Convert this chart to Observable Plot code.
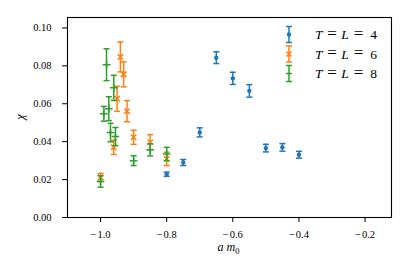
<!DOCTYPE html>
<html><head><meta charset="utf-8">
<script src="https://cdn.jsdelivr.net/npm/d3@7"></script>
<script src="https://cdn.jsdelivr.net/npm/@observablehq/plot@0.6"></script>
<style>body{margin:0;background:#fff;} svg{display:block;}</style>
</head><body><div id="chart"></div>
<script>
// ---- data ----
const seriesNames = ["4", "6", "8"];
const seriesColors = ["#1f77b4", "#ff7f0e", "#2ca02c"];
const seriesSymbols = ["circle", "times", "plus"];

const am0_L4 = [-0.80, -0.75, -0.70, -0.65, -0.60, -0.55, -0.50, -0.45, -0.40];
const chi_L4 = [0.0228, 0.0290, 0.0449, 0.0843, 0.0734, 0.0668, 0.0366, 0.0370, 0.0331];
const err_L4 = [0.0011, 0.0016, 0.0024, 0.0031, 0.0032, 0.0033, 0.0020, 0.0020, 0.0018];

const am0_L6 = [-1.00, -0.96, -0.95, -0.94, -0.93, -0.92, -0.90, -0.85, -0.80];
const chi_L6 = [0.0212, 0.0370, 0.0626, 0.0847, 0.0755, 0.0561, 0.0423, 0.0397, 0.0309];
const err_L6 = [0.0021, 0.0037, 0.0066, 0.0079, 0.0066, 0.0056, 0.0037, 0.0040, 0.0035];

const am0_L8 = [-1.00, -0.99, -0.982, -0.975, -0.97, -0.96, -0.955, -0.90, -0.85, -0.80];
const chi_L8 = [0.0190, 0.0547, 0.0806, 0.0574, 0.0448, 0.0684, 0.0427, 0.0300, 0.0357, 0.0335];
const err_L8 = [0.0030, 0.0039, 0.0084, 0.0063, 0.0049, 0.0066, 0.0048, 0.0026, 0.0032, 0.0035];

const xTicks = [-1.0, -0.8, -0.6, -0.4, -0.2];
const yTicks = [0.00, 0.02, 0.04, 0.06, 0.08, 0.10];

// ---- build ----
const FONT = "Liberation Serif, Times New Roman, serif";
const allX = [am0_L4, am0_L6, am0_L8];
const allY = [chi_L4, chi_L6, chi_L8];
const allE = [err_L4, err_L6, err_L8];
const groups = allX.map((xs, i) => xs.map((x, j) => ({x, y: allY[i][j], e: allE[i][j]})));

const capSymbol = {draw(ctx, size) { const w = Math.sqrt(size / Math.PI); ctx.moveTo(-w, 0); ctx.lineTo(w, 0); }};

const marks = [];
groups.forEach((rows, i) => {
  const c = seriesColors[i];
  marks.push(Plot.ruleX(rows, {x: "x", y1: d => d.y - d.e, y2: d => d.y + d.e, stroke: c, strokeWidth: 1.5}));
  marks.push(Plot.dot(rows, {x: "x", y: d => d.y - d.e, symbol: capSymbol, r: 3, stroke: c, strokeWidth: 1.5, fill: "none"}));
  marks.push(Plot.dot(rows, {x: "x", y: d => d.y + d.e, symbol: capSymbol, r: 3, stroke: c, strokeWidth: 1.5, fill: "none"}));
  if (seriesSymbols[i] === "circle") {
    marks.push(Plot.dot(rows, {x: "x", y: "y", r: 2.2, fill: c, stroke: "none"}));
  } else {
    marks.push(Plot.dot(rows, {x: "x", y: "y", symbol: seriesSymbols[i], r: 2.6, stroke: c, strokeWidth: 1.5, fill: "none"}));
  }
});
marks.push(Plot.frame({stroke: "#000", strokeWidth: 1.1}));

const fmtX = d => (d < 0 ? "\u2212\u200A" : "") + d3.format(".1f")(Math.abs(d));

const plot = Plot.plot({
  width: 409, height: 273,
  marginLeft: 67, marginRight: 18, marginTop: 17, marginBottom: 56,
  style: {fontFamily: FONT, fontSize: "10.5px", color: "#000", background: "#fff"},
  x: {domain: [-1.1, -0.12], ticks: xTicks, tickFormat: fmtX, tickSize: 5, tickPadding: 8, label: null},
  y: {domain: [0, 0.1055], ticks: yTicks, tickFormat: d3.format(".2f"), tickSize: 5, tickPadding: 11, label: null},
  marks
});
document.getElementById("chart").appendChild(plot);

// ---- axis labels & legend ----
const svg = d3.select(plot);
const xl = svg.append("text").attr("x", 228.5).attr("y", 251).attr("text-anchor", "middle")
  .attr("font-family", FONT).attr("font-size", 12);
xl.append("tspan").attr("font-style", "italic").text("a m");
xl.append("tspan").attr("dy", 2.5).attr("font-size", 8.5).text("0");

svg.append("text").attr("transform", "translate(24,117) rotate(-90)").attr("text-anchor", "middle")
  .attr("font-family", FONT).attr("font-size", 12.5).attr("font-style", "italic").text("χ");

const lg = svg.append("g");
const rowsY = [34.5, 54, 73.5];
seriesNames.forEach((nm, i) => {
  const c = seriesColors[i], cx = 289, cy = rowsY[i];
  lg.append("line").attr("x1", cx).attr("x2", cx).attr("y1", cy - 8).attr("y2", cy + 8).attr("stroke", c).attr("stroke-width", 1.5);
  [cy - 8, cy + 8].forEach(yy => lg.append("line").attr("x1", cx - 3).attr("x2", cx + 3).attr("y1", yy).attr("y2", yy).attr("stroke", c).attr("stroke-width", 1.5));
  if (i === 0) lg.append("circle").attr("cx", cx).attr("cy", cy).attr("r", 2.2).attr("fill", c);
  else if (i === 1) lg.append("path").attr("d", `M${cx-2.5},${cy-2.5}L${cx+2.5},${cy+2.5}M${cx-2.5},${cy+2.5}L${cx+2.5},${cy-2.5}`).attr("stroke", c).attr("stroke-width", 1.5);
  else lg.append("path").attr("d", `M${cx-3},${cy}L${cx+3},${cy}`).attr("stroke", c).attr("stroke-width", 1.5);
  const t = lg.append("text").attr("y", cy + 4.5).attr("text-anchor", "middle")
    .attr("font-family", FONT).attr("font-size", 13.5).attr("font-weight", "normal");
  const parts = [["T", 318.8, true, 13.5, 0], ["=", 332, false, 17, -0.5], ["L", 345, true, 13.5, 0], ["=", 358.5, false, 17, -0.5], [nm, 373.6, false, 13.5, 0]];
  parts.forEach(([s, px, it, fs, dy]) => t.append("tspan").attr("x", px).attr("y", cy + 4.5 + dy)
    .attr("font-size", fs).attr("font-style", it ? "italic" : "normal").text(s));
});
</script></body></html>
